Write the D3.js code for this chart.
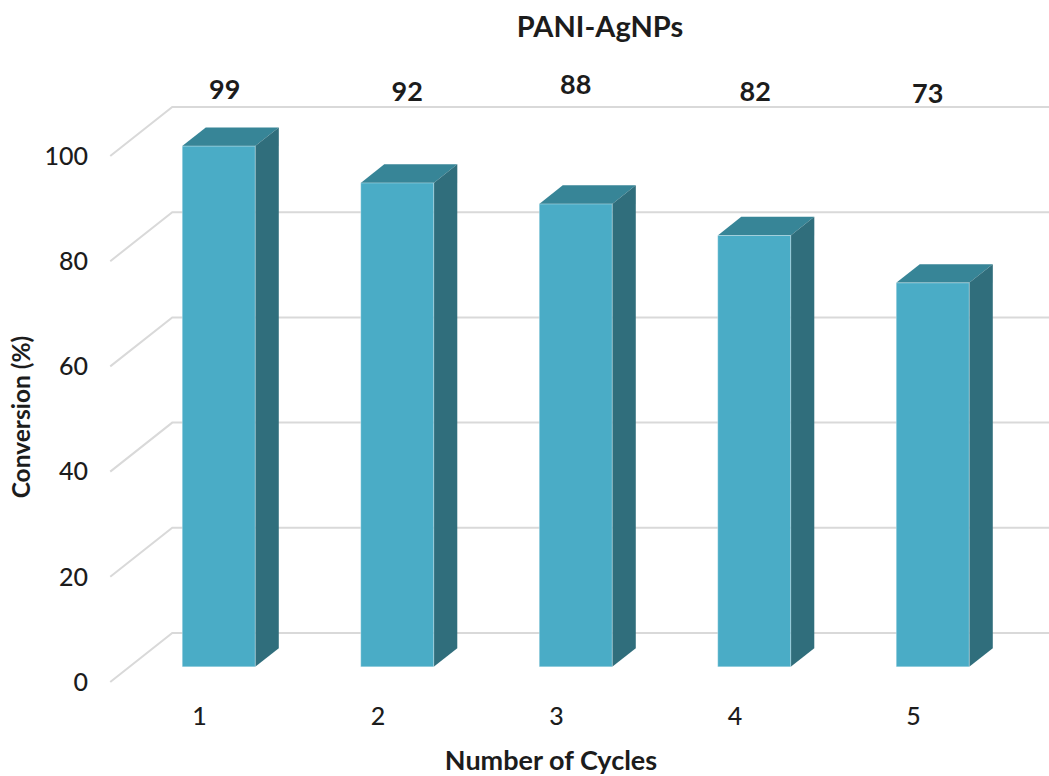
<!DOCTYPE html>
<html>
<head>
<meta charset="utf-8">
<script src="https://cdn.jsdelivr.net/npm/d3@7/dist/d3.min.js"></script>
<style>
  html, body { margin: 0; padding: 0; background: #fff; }
  svg { display: block; }
  text { font-family: Lato, "Open Sans", sans-serif; fill: #1c1c1c; }
</style>
</head>
<body>
<svg id="chart" width="1049" height="776"></svg>
<script>
// Catalyst reuse: conversion per cycle
const cycles = ["1", "2", "3", "4", "5"];
const conversion = [99, 92, 88, 82, 73];
const yTicks = [0, 20, 40, 60, 80, 100];
const chartTitle = "PANI-AgNPs";
const xTitle = "Number of Cycles";
const yTitle = "Conversion (%)";

// Small hand nudges for the value labels [dx, dy]
const labelNudge = [[6, -1], [10, 1], [0, -6], [1, 1], [-5, 3]];

const W = 1049, H = 776;
const svg = d3.select("#chart");

// Front plane of the 3D box
const frontLeft = 110.25, frontRight = 1002.75;
const depth = { dx: 62, dy: -49 };        // full floor depth (front -> back wall)
const barNear = 0.31, barFar = 0.69;      // bar sits in the middle of the depth

const x = d3.scaleBand()
  .domain(cycles)
  .range([frontLeft, frontRight])
  .paddingInner(0.591)
  .paddingOuter(0.2955);

const y = d3.scaleLinear().domain([0, 100]).range([682, 156]);

const off = f => ({ dx: depth.dx * f, dy: depth.dy * f });

// Gridlines: side-wall diagonal then back wall horizontal
const grid = svg.append("g").attr("class", "grid");
grid.selectAll("path")
  .data(yTicks)
  .join("path")
  .attr("d", t => {
    const y0 = y(t);
    return `M${frontLeft},${y0}L${frontLeft + depth.dx},${y0 + depth.dy}L${W},${y0 + depth.dy}`;
  })
  .attr("fill", "none")
  .attr("stroke", "#d9d9d9")
  .attr("stroke-width", 2);

// Y tick labels
svg.append("g").selectAll("text")
  .data(yTicks)
  .join("text")
  .attr("x", 88)
  .attr("y", t => y(t))
  .attr("dy", "0.35em")
  .attr("text-anchor", "end")
  .attr("font-size", 25)
  .attr("font-weight", 500)
  .text(d => d);

// Bars
const near = off(barNear), far = off(barFar);
const bd = { dx: far.dx - near.dx, dy: far.dy - near.dy };
const bars = svg.append("g").attr("class", "bars")
  .selectAll("g")
  .data(cycles.map((c, i) => ({ c, v: conversion[i] })))
  .join("g");

bars.each(function (d) {
  const g = d3.select(this);
  const x0 = x(d.c) + near.dx, x1 = x0 + x.bandwidth();
  const yt = y(d.v) + near.dy, yb = y(0) + near.dy;
  // top face
  g.append("path")
    .attr("d", `M${x0},${yt}L${x0 + bd.dx},${yt + bd.dy}L${x1 + bd.dx},${yt + bd.dy}L${x1},${yt}Z`)
    .attr("fill", "#378597");
  // right side face
  g.append("path")
    .attr("d", `M${x1},${yt}L${x1 + bd.dx},${yt + bd.dy}L${x1 + bd.dx},${yb + bd.dy}L${x1},${yb}Z`)
    .attr("fill", "#306e7c");
  // front face
  g.append("rect")
    .attr("x", x0).attr("y", yt)
    .attr("width", x.bandwidth()).attr("height", yb - yt)
    .attr("fill", "#4aacc6")
    .attr("stroke", "rgba(255,255,255,0.35)")
    .attr("stroke-width", 1);
});

// Value labels
svg.append("g").selectAll("text")
  .data(conversion)
  .join("text")
  .attr("x", (v, i) => x(cycles[i]) + near.dx + x.bandwidth() / 2 + labelNudge[i][0])
  .attr("y", (v, i) => 91 + labelNudge[i][1])
  .attr("dy", "0.35em")
  .attr("text-anchor", "middle")
  .attr("font-size", 27)
  .attr("font-weight", "bold")
  .text(v => v);

// Category labels on the front edge
svg.append("g").selectAll("text")
  .data(cycles)
  .join("text")
  .attr("x", c => x(c) + x.bandwidth() / 2)
  .attr("y", 716)
  .attr("dy", "0.35em")
  .attr("text-anchor", "middle")
  .attr("font-size", 25)
  .attr("font-weight", 500)
  .text(c => c);

// Titles
svg.append("text")
  .attr("x", 600).attr("y", 37)
  .attr("text-anchor", "middle")
  .attr("font-size", 29)
  .attr("font-weight", "bold")
  .text(chartTitle);

svg.append("text")
  .attr("x", 551).attr("y", 770)
  .attr("text-anchor", "middle")
  .attr("font-size", 27)
  .attr("font-weight", "bold")
  .text(xTitle);

svg.append("text")
  .attr("transform", "translate(30,417) rotate(-90)")
  .attr("text-anchor", "middle")
  .attr("font-size", 24.5)
  .attr("font-weight", "bold")
  .text(yTitle);
</script>
</body>
</html>
